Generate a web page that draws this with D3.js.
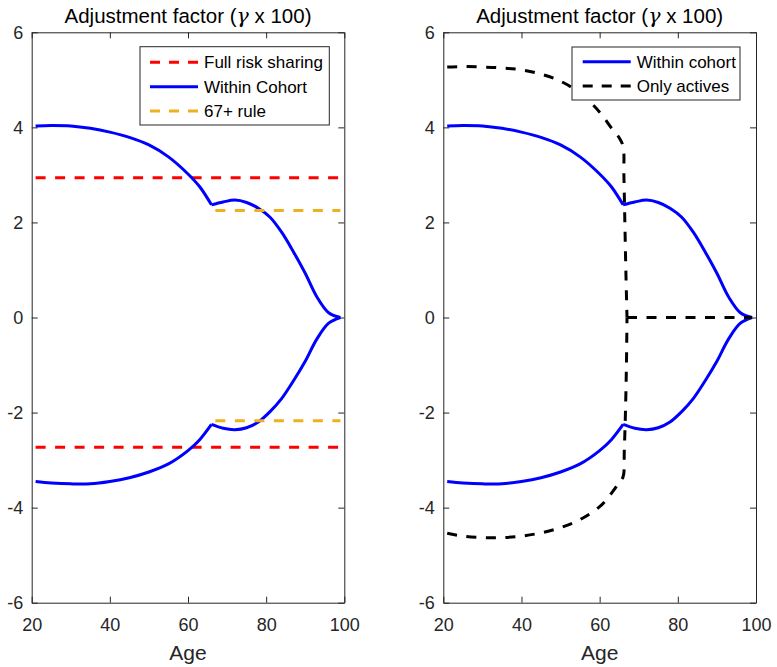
<!DOCTYPE html>
<html>
<head>
<meta charset="utf-8">
<script src="https://cdn.jsdelivr.net/npm/d3@7"></script>
<style>
  body { margin: 0; background: #fff; }
  svg { display: block; font-family: "Liberation Sans", Arial, Helvetica, sans-serif; }
</style>
</head>
<body>
<div id="chart"></div>
<script>
// ---- values ----
const cohortAges  = [21, 25, 30, 35, 40, 45, 50, 55, 60, 63, 66, 69, 72, 75, 78, 81, 84, 87, 90, 93, 96, 99]
const cohortUpper = [4.03, 4.04, 4.03, 3.98, 3.90, 3.79, 3.63, 3.38, 3.02, 2.75, 2.37, 2.43, 2.47, 2.42, 2.30, 2.11, 1.79, 1.38, 0.93, 0.43, 0.10, 0]
const cohortLower = [-3.45, -3.48, -3.50, -3.50, -3.45, -3.37, -3.25, -3.08, -2.80, -2.57, -2.25, -2.33, -2.36, -2.32, -2.20, -1.98, -1.70, -1.33, -0.92, -0.45, -0.12, 0]
const kinkAge = 66          // cohort curves have a corner here

const fullRiskAges  = [21, 99]
const fullRiskUpper = [2.94, 2.94]
const fullRiskLower = [-2.73, -2.73]

const rule67Ages  = [67, 99]
const rule67Upper = [2.25, 2.25]
const rule67Lower = [-2.17, -2.17]

const activesUpperAges = [21, 25, 30, 35, 40, 45, 50, 55, 60, 63, 65, 66, 66.2, 66.45, 66.7, 67]
const activesUpper     = [5.27, 5.28, 5.27, 5.25, 5.21, 5.12, 4.97, 4.72, 4.32, 3.99, 3.78, 3.60, 3.0, 2.0, 1.0, 0]
const activesLowerAges = [21, 25, 30, 35, 40, 45, 50, 55, 60, 63, 65, 66, 66.3, 66.6, 66.85, 67]
const activesLower     = [-4.54, -4.60, -4.63, -4.63, -4.60, -4.53, -4.42, -4.25, -3.98, -3.70, -3.47, -3.35, -2.8, -2.0, -1.0, 0]
const activesTailAges  = [67, 99]      // after 67 only actives gives zero
const activesTail      = [0, 0]

const xTicks = [20, 40, 60, 80, 100]
const yTicks = [-6, -4, -2, 0, 2, 4, 6]
const titleText = "Adjustment factor ("
const xLabel = "Age"

// ---- layout ----
const width = 777
const height = 667
const plotTop = 32.3
const plotBottom = 602.7
const panels = [
    { left: 31.7, right: 344.3 },
    { left: 443.3, right: 756 }
]
const axisColor = "#262626"
const dash = "10,9.5"

const svg = d3.select("#chart").append("svg")
    .attr("width", width)
    .attr("height", height)

function makePanel(p) {
    const x = d3.scaleLinear().domain([20, 100]).range([p.left, p.right])
    const y = d3.scaleLinear().domain([-6, 6]).range([plotBottom, plotTop])
    const g = svg.append("g")
    const plain = d => String(d)   // hyphen minus like the original, not U+2212

    // box with inward ticks on all sides (matlab style)
    const axes = [
        { ax: d3.axisBottom(x).tickValues(xTicks).tickFormat(plain).tickSizeInner(-6).tickSizeOuter(0).tickPadding(15.5), tr: `translate(0,${plotBottom})` },
        { ax: d3.axisTop(x).tickValues(xTicks).tickSizeInner(-6).tickSizeOuter(0).tickFormat(""), tr: `translate(0,${plotTop})` },
        { ax: d3.axisLeft(y).tickValues(yTicks).tickFormat(plain).tickSizeInner(-6).tickSizeOuter(0).tickPadding(8.5), tr: `translate(${p.left},0)` },
        { ax: d3.axisRight(y).tickValues(yTicks).tickSizeInner(-6).tickSizeOuter(0).tickFormat(""), tr: `translate(${p.right},0)` }
    ]
    axes.forEach(a => {
        const ag = g.append("g").attr("transform", a.tr).call(a.ax)
        ag.select(".domain").attr("stroke", axisColor)
        ag.selectAll(".tick line").attr("stroke", axisColor)
        ag.selectAll(".tick text")
            .attr("fill", axisColor)
            .style("font-size", "18px")
            .style("font-family", "inherit")
    })

    // title with greek gamma
    const t = g.append("text")
        .attr("x", (p.left + p.right) / 2)
        .attr("y", 22.5)
        .attr("text-anchor", "middle")
        .attr("fill", "#000")
        .style("font-size", "20.5px")
    t.append("tspan").text(titleText)
    t.append("tspan").text("γ").style("font-style", "italic").style("font-family", "'DejaVu Serif', serif")
    t.append("tspan").text(" x 100)")

    g.append("text")
        .attr("x", (p.left + p.right) / 2)
        .attr("y", 660)
        .attr("text-anchor", "middle")
        .attr("fill", axisColor)
        .style("font-size", "21px")
        .text(xLabel)

    return { g, x, y }
}

function drawLine(panel, ages, vals, color, dashed) {
    const line = d3.line()
        .x(d => panel.x(d[0]))
        .y(d => panel.y(d[1]))
        .curve(d3.curveCatmullRom.alpha(0.5))
    const pts = d3.zip(ages, vals)
    panel.g.append("path")
        .datum(pts)
        .attr("fill", "none")
        .attr("stroke", color)
        .attr("stroke-width", 3)
        .attr("stroke-dasharray", dashed ? dash : null)
        .attr("d", line)
}

// cohort curve is drawn in two pieces so the corner at kinkAge stays sharp
function drawCohort(panel) {
    [cohortUpper, cohortLower].forEach(vals => {
        const before = cohortAges.map((a, i) => [a, vals[i]]).filter(d => d[0] <= kinkAge)
        const after = cohortAges.map((a, i) => [a, vals[i]]).filter(d => d[0] >= kinkAge)
        drawLine(panel, before.map(d => d[0]), before.map(d => d[1]), "#0000ff", false)
        drawLine(panel, after.map(d => d[0]), after.map(d => d[1]), "#0000ff", false)
    })
}

function drawLegend(panel, box, items) {
    const lg = panel.g.append("g")
    lg.append("rect")
        .attr("x", box.x).attr("y", box.y)
        .attr("width", box.w).attr("height", box.h)
        .attr("fill", "#fff")
        .attr("stroke", axisColor)
        .attr("stroke-width", 1)
    items.forEach((it, i) => {
        const cy = box.y + box.first + i * box.step
        lg.append("line")
            .attr("x1", box.x + box.lineStart).attr("x2", box.x + box.lineStart + 48)
            .attr("y1", cy).attr("y2", cy)
            .attr("stroke", it.color)
            .attr("stroke-width", 3)
            .attr("stroke-dasharray", it.dashed ? "10,9" : null)
        lg.append("text")
            .attr("x", box.x + box.lineStart + 54)
            .attr("y", cy)
            .attr("dy", "0.35em")
            .attr("fill", "#000")
            .style("font-size", "17px")
            .text(it.label)
    })
}

// ---- left panel ----
const left = makePanel(panels[0])
drawLine(left, fullRiskAges, fullRiskUpper, "#ff0000", true)
drawLine(left, fullRiskAges, fullRiskLower, "#ff0000", true)
drawCohort(left)
drawLine(left, rule67Ages, rule67Upper, "#edb120", true)
drawLine(left, rule67Ages, rule67Lower, "#edb120", true)
drawLegend(left, { x: 140, y: 46.7, w: 189.3, h: 78.3, first: 15.6, step: 24.4, lineStart: 10 }, [
    { label: "Full risk sharing", color: "#ff0000", dashed: true },
    { label: "Within Cohort", color: "#0000ff", dashed: false },
    { label: "67+ rule", color: "#edb120", dashed: true }
])

// ---- right panel ----
const right = makePanel(panels[1])
drawCohort(right)
drawLine(right, activesUpperAges, activesUpper, "#000", true)
drawLine(right, activesLowerAges, activesLower, "#000", true)
drawLine(right, activesTailAges, activesTail, "#000", true)
drawLegend(right, { x: 572, y: 47, w: 168, h: 53, first: 14.7, step: 24.3, lineStart: 10.7 }, [
    { label: "Within cohort", color: "#0000ff", dashed: false },
    { label: "Only actives", color: "#000", dashed: true }
])
</script>
</body>
</html>
